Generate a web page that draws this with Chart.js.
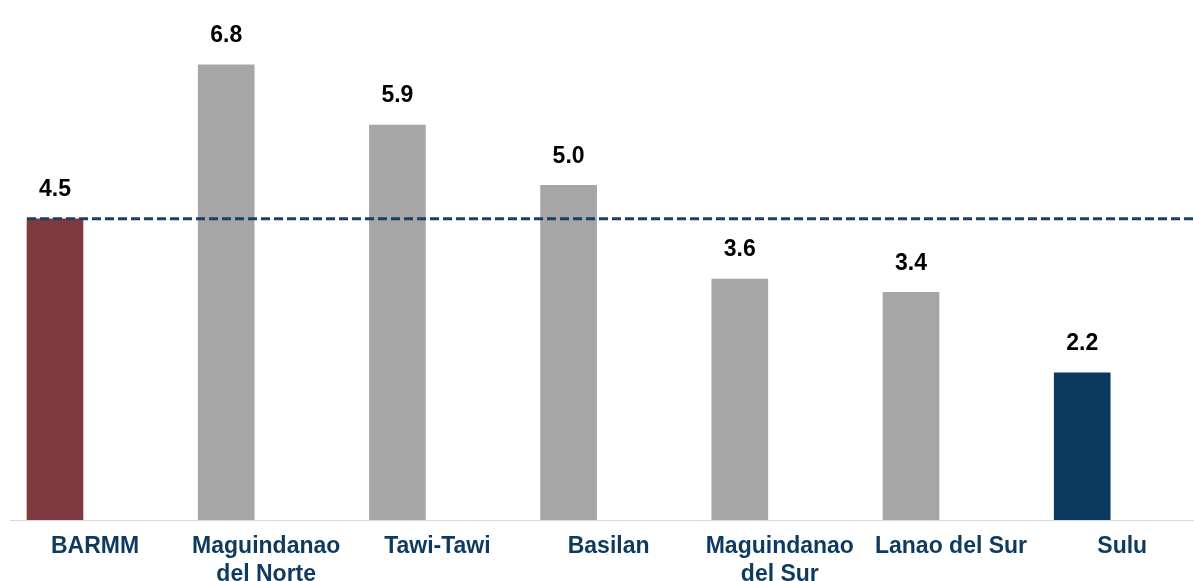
<!DOCTYPE html>
<html>
<head>
<meta charset="utf-8">
<script src="https://cdn.jsdelivr.net/npm/chart.js@4.4.1/dist/chart.umd.min.js"></script>
<style>
  html, body { margin: 0; padding: 0; background: #ffffff; }
  #wrap { width: 1194px; height: 581px; position: relative; }
</style>
</head>
<body>
<div id="wrap"><canvas id="c"></canvas></div>
<script>
const categories = [['BARMM'], ['Maguindanao', 'del Norte'], ['Tawi-Tawi'], ['Basilan'], ['Maguindanao', 'del Sur'], ['Lanao del Sur'], ['Sulu']];
const values = [4.5, 6.8, 5.9, 5.0, 3.6, 3.4, 2.2];
const valueLabels = ['4.5', '6.8', '5.9', '5.0', '3.6', '3.4', '2.2'];
const benchmark = 4.5;
const barColors = ['#7F3A40', '#A6A6A6', '#A6A6A6', '#A6A6A6', '#A6A6A6', '#A6A6A6', '#0B3A5E'];

const benchmarkPlugin = {
  id: 'benchmark',
  afterDatasetsDraw(chart) {
    const ctx = chart.ctx;
    const y = chart.scales.y.getPixelForValue(benchmark);
    const first = chart.getDatasetMeta(0).data[0];
    const x0 = first.x - first.width / 2;
    ctx.save();
    ctx.strokeStyle = '#1B3F63';
    ctx.lineWidth = 3;
    ctx.setLineDash([9, 4]);
    ctx.beginPath();
    ctx.moveTo(x0, y);
    ctx.lineTo(chart.width, y);
    ctx.stroke();
    ctx.restore();
  }
};

const valueLabelPlugin = {
  id: 'valueLabels',
  afterDatasetsDraw(chart) {
    const ctx = chart.ctx;
    const meta = chart.getDatasetMeta(0);
    ctx.save();
    ctx.font = 'bold 23px "Liberation Sans", Arial, sans-serif';
    ctx.fillStyle = '#000000';
    ctx.textAlign = 'center';
    ctx.textBaseline = 'middle';
    meta.data.forEach((bar, i) => {
      ctx.fillText(valueLabels[i], bar.x, bar.y - 29);
    });
    ctx.restore();
  }
};

new Chart(document.getElementById('c'), {
  type: 'bar',
  data: {
    datasets: [{
      data: values.map((v, i) => ({ x: i, y: v })),
      backgroundColor: barColors,
      borderWidth: 0,
      barThickness: 56
    }]
  },
  options: {
    responsive: true,
    maintainAspectRatio: false,
    animation: false,
    layout: { padding: { top: 18, left: 10, right: 0, bottom: 0 } },
    plugins: { legend: { display: false }, tooltip: { enabled: false } },
    scales: {
      x: {
        type: 'linear',
        offset: false,
        min: -0.2629,
        max: 6.653,
        afterBuildTicks(scale) {
          scale.ticks = categories.map((c, i) => ({ value: i }));
        },
        afterFit(scale) {
          scale.height = 61;
          scale.paddingLeft = 0;
          scale.paddingRight = 0;
        },
        grid: { display: false, drawTicks: false, offset: false },
        border: { display: true, color: '#D9D9D9', width: 1 },
        ticks: {
          autoSkip: false,
          maxRotation: 0,
          padding: 13,
          labelOffset: 40,
          color: '#0E3A5F',
          font: { family: '"Liberation Sans", Arial, sans-serif', size: 23, weight: 'bold', lineHeight: 1.2 },
          callback(value) {
            const i = Math.round(value);
            return categories[i] || '';
          }
        }
      },
      y: {
        display: false,
        min: 0,
        max: 7.5
      }
    }
  },
  plugins: [benchmarkPlugin, valueLabelPlugin]
});
</script>
</body>
</html>
